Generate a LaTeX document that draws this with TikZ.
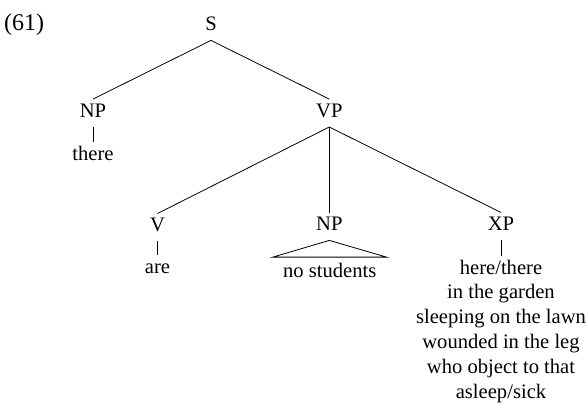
\documentclass[tikz,border=0pt]{standalone}
\usepackage{fontspec}
\setmainfont{Liberation Serif}
\begin{document}
\begin{tikzpicture}[x=1pt,y=-1pt,
  every node/.style={inner sep=0pt, font=\fontsize{20.6}{24.8}\selectfont},
  lab/.style={anchor=base, text height=18pt, text depth=9.5pt},
  branch/.style={line width=0.8pt}]
\useasboundingbox (0,0) rectangle (586,405);

% example number
\node[anchor=base west, font=\fontsize{24}{28}\selectfont] (ex) at (4,30.7) {(61)};

% categories
\node[lab] (S)   at (211,30.7)   {S};
\node[lab] (NPa) at (93,117.3)   {NP};
\node[lab] (VP)  at (329.3,117.3) {VP};
\node[lab] (V)   at (157.5,231.7) {V};
\node[lab] (NPb) at (329.3,230.7) {NP};
\node[lab] (XP)  at (501,230.7)   {XP};

% words
\node[lab] (there) at (93,160)      {there};
\node[lab] (are)   at (157.5,273.3) {are};
\node[lab, text height=20pt] (nostud) at (329.7,277.3) {no students};

% list of XP phrases
\node[lab] (x1) at (501,274)   {here/there};
\node[lab] (x2) at (501,298.8) {in the garden};
\node[lab] (x3) at (501,323.6) {sleeping on the lawn};
\node[lab] (x4) at (501,348.4) {wounded in the leg};
\node[lab] (x5) at (501,373.2) {who object to that};
\node[lab] (x6) at (501,398)   {asleep/sick};

% branches
\draw[branch] (S.south) -- (NPa.north);
\draw[branch] (S.south) -- (VP.north);
\draw[branch] (NPa.south) -- (there.north);
\draw[branch] (VP.south) -- (V.north);
\draw[branch] (VP.south) -- (NPb.north);
\draw[branch] (VP.south) -- (XP.north);
\draw[branch] (V.south) -- (are.north);
\draw[branch] (XP.south) -- (x1.north);
% roof over the unanalysed NP
\draw[branch] (NPb.south) -- ([xshift=-10pt]nostud.north west)
  -- ([xshift=10pt]nostud.north east) -- cycle;
\end{tikzpicture}
\end{document}
